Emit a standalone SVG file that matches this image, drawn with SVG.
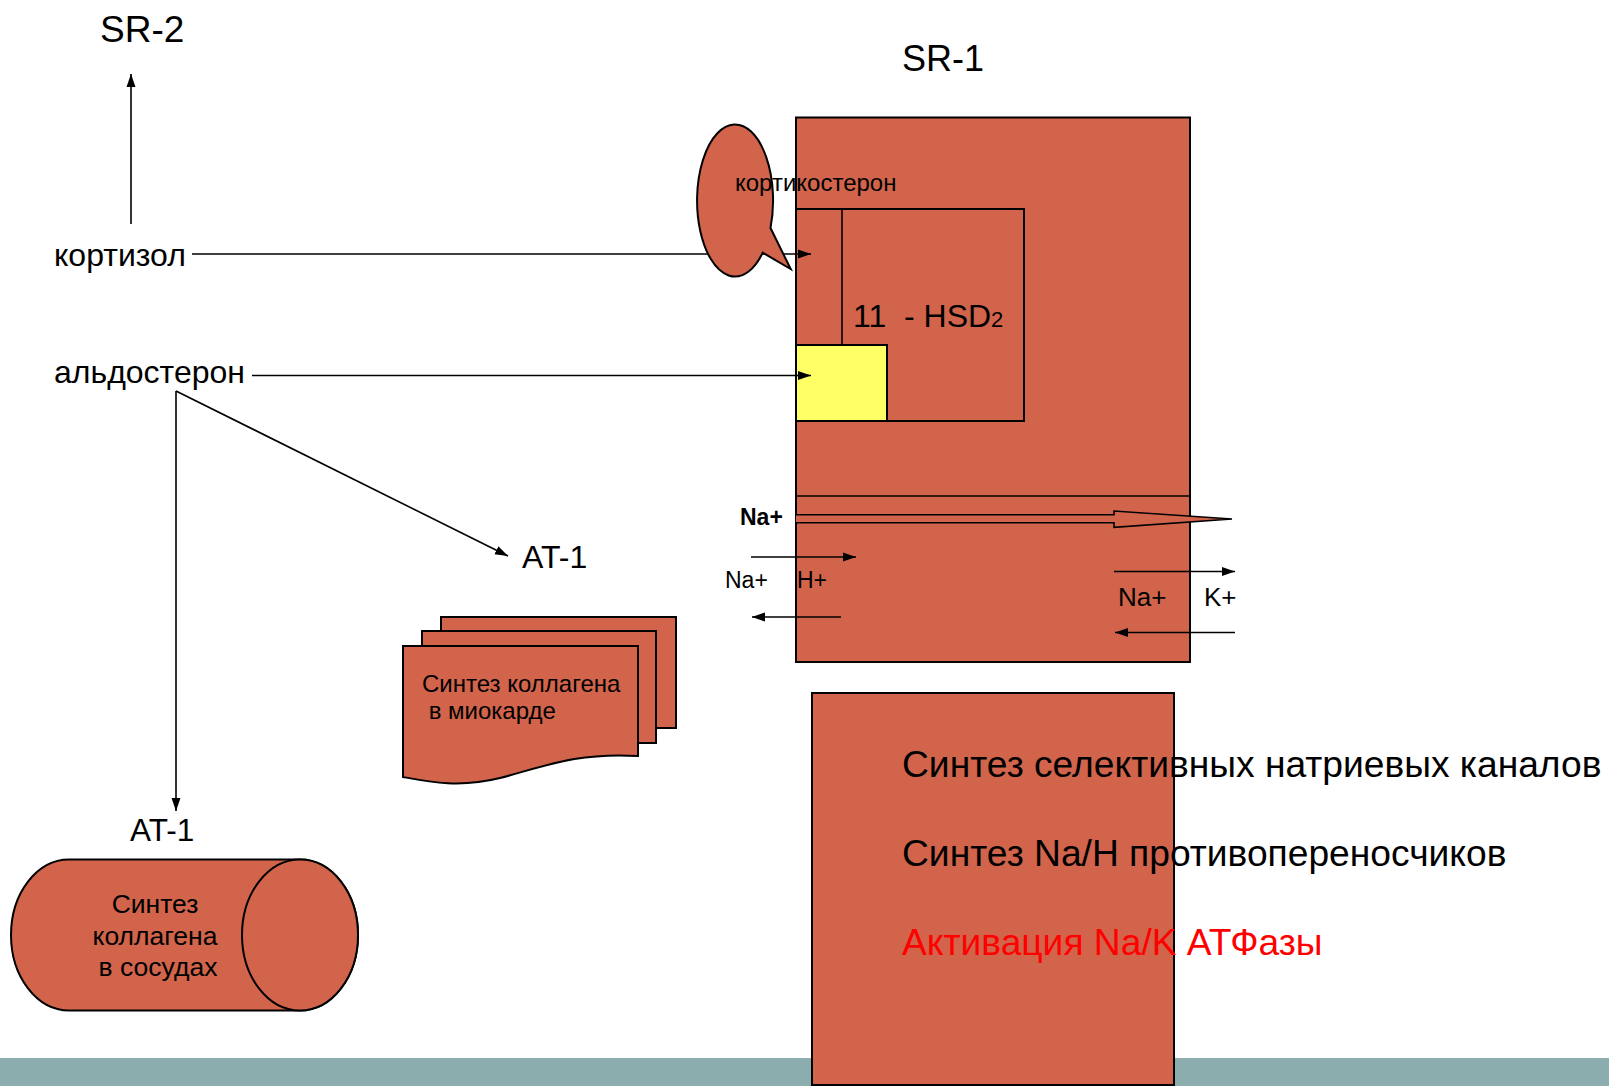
<svg xmlns="http://www.w3.org/2000/svg" width="1609" height="1086" viewBox="0 0 1609 1086">
<style>
text{font-family:"Liberation Sans",Arial,sans-serif;fill:#000}
.box{fill:#D1644B;stroke:#000;stroke-width:2}
.ln{fill:none;stroke:#000;stroke-width:1.6}
.red{fill:#FF0000}
</style>
<defs>
<marker id="ah" markerUnits="userSpaceOnUse" markerWidth="14" markerHeight="10" refX="13" refY="5" orient="auto">
<path d="M0,0.5 L13,5 L0,9.5 Z" fill="#000"/>
</marker>
</defs>
<rect x="0" y="1058" width="1609" height="28" fill="#8BADAD"/>
<g id="sr2-label"><text x="100" y="42" font-size="37">SR-2</text></g>
<g id="sr1-label"><text x="902" y="71" font-size="36">SR-1</text></g>
<g id="kortizol"><text x="54" y="266" font-size="32">кортизол</text></g>
<g id="aldosteron"><text x="54" y="383" font-size="32">альдостерон</text></g>
<g id="at1-mid"><text x="522" y="568" font-size="32">AT-1</text></g>
<g id="at1-bottom"><text x="130" y="841" font-size="31.5">AT-1</text></g>
<g id="sr1-cell">
<rect class="box" x="796" y="117.5" width="394" height="544.5"/>
<line class="ln" x1="796" y1="496" x2="1190" y2="496" stroke-width="2"/>
<rect class="box" x="796" y="209" width="228" height="212"/>
<line class="ln" x1="842" y1="209" x2="842" y2="345" stroke-width="2"/>
<text x="853" y="327" font-size="32" xml:space="preserve">11  - HSD<tspan font-size="22">2</tspan></text>
</g>
<g id="receptor"><rect x="796" y="345" width="91" height="76" fill="#FFFF66" stroke="#000" stroke-width="2"/></g>
<g id="effects">
<rect class="box" x="812" y="693" width="362" height="392"/>
<text x="902" y="777" font-size="37.2">Синтез селективных натриевых каналов</text>
<text x="902" y="866" font-size="37.2">Синтез Na/H противопереносчиков</text>
<text x="902" y="955" font-size="37.2" class="red">Активация Na/K АТФазы</text>
</g>
<g id="collagen-myocard">
<rect class="box" x="441" y="617" width="235" height="111"/>
<rect class="box" x="422" y="631" width="234" height="112"/>
<path class="box" d="M403,646 L638,646 L638,756 C575,752 540,768 500,778 C460,788 430,782 403,777 Z"/>
<text x="422" y="692" font-size="24">Синтез коллагена</text>
<text x="422" y="719" font-size="24" xml:space="preserve"> в миокарде</text>
</g>
<g id="collagen-vessels">
<path class="box" d="M69,859.5 L300,859.5 A58,75.5 0 0 1 300,1010.5 L69,1010.5 A58,75.5 0 0 1 69,859.5 Z"/>
<ellipse class="box" cx="300" cy="935" rx="58" ry="75.5"/>
<text x="155" y="913" font-size="26.5" text-anchor="middle">Синтез</text>
<text x="155" y="944.5" font-size="26.5" text-anchor="middle">коллагена</text>
<text x="158" y="976" font-size="26.5" text-anchor="middle">в сосудах</text>
</g>
<g id="connectors">
<line class="ln" x1="131" y1="224" x2="131" y2="74" marker-end="url(#ah)"/>
<line class="ln" x1="192" y1="254" x2="811" y2="254" marker-end="url(#ah)"/>
<line class="ln" x1="252" y1="375.5" x2="811" y2="375.5" marker-end="url(#ah)"/>
<line class="ln" x1="176" y1="391" x2="176" y2="811" marker-end="url(#ah)"/>
<line class="ln" x1="176" y1="391" x2="508" y2="556" marker-end="url(#ah)"/>
<path d="M796,514.7 L1114,514.7 L1114,511 L1232,519 L1114,527.3 L1114,522.7 L796,522.7" fill="#D1644B" stroke="#000" stroke-width="1.6"/>
<line class="ln" x1="751" y1="557" x2="856" y2="557" marker-end="url(#ah)"/>
<line class="ln" x1="841" y1="617" x2="752" y2="617" marker-end="url(#ah)"/>
<line class="ln" x1="1114" y1="571.5" x2="1235" y2="571.5" marker-end="url(#ah)"/>
<line class="ln" x1="1235" y1="632.5" x2="1115" y2="632.5" marker-end="url(#ah)"/>
</g>
<g id="ion-labels">
<text x="740" y="525" font-size="23" font-weight="bold">Na+</text>
<text x="725" y="588" font-size="23">Na+</text>
<text x="797" y="588" font-size="23">H+</text>
<text x="1118" y="606" font-size="26">Na+</text>
<text x="1204" y="606" font-size="26">K+</text>
</g>
<g id="corticosterone">
<path class="box" d="M770.5,228 L790.7,269 L762.7,252.7 A38,76 0 1 1 770.5,228 Z"/>
<text x="735" y="191" font-size="24">кортикостерон</text>
</g>
</svg>
